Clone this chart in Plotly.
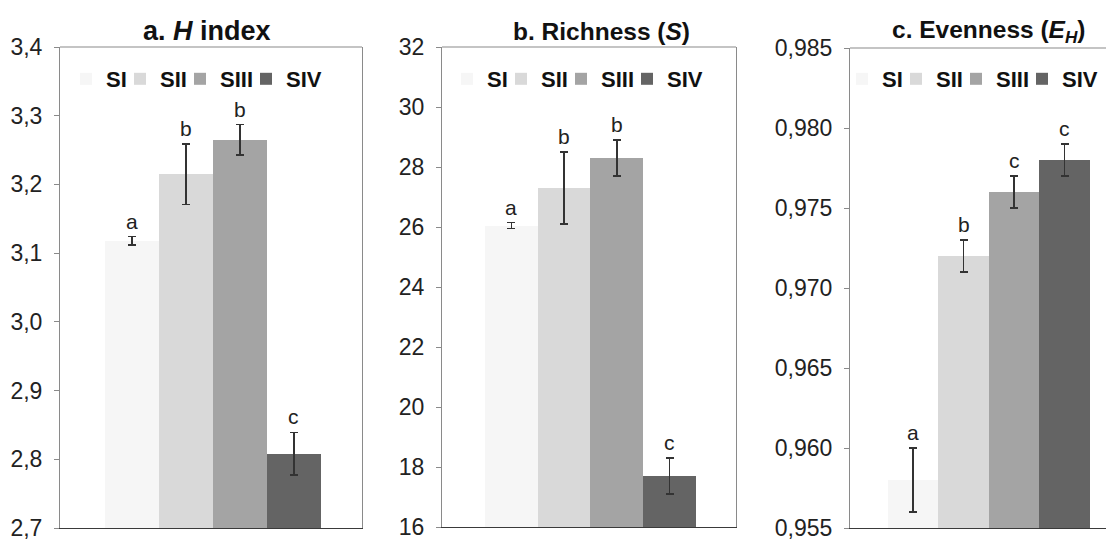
import plotly.graph_objects as go

# The page body has an 8px default margin, so the figure is sized to fit the
# 1114x539 window exactly and positions are given in window pixels minus 8.
OFF = 8
W, H = 1114 - OFF, 539 - OFF

series = ["SI", "SII", "SIII", "SIV"]
colors = ["#f6f6f6", "#d9d9d9", "#a4a4a4", "#646464"]
# legend entry widths (px) used to pack the legend entries tightly
legend_widths = [9, 15, 21, 37]

h_mean = [3.118, 3.215, 3.265, 2.808]
h_err = [0.006, 0.044, 0.022, 0.031]
h_letters = ["a", "b", "b", "c"]

s_mean = [26.05, 27.3, 28.3, 17.7]
s_err = [0.1, 1.2, 0.6, 0.6]
s_letters = ["a", "b", "b", "c"]

e_mean = [0.958, 0.972, 0.976, 0.978]
e_err = [0.002, 0.001, 0.001, 0.001]
e_letters = ["a", "b", "c", "c"]

titles = ["<b>a. <i>H</i> index</b>",
          "<b>b. Richness (<i>S</i>)</b>",
          "<b>c. Evenness (<i>E</i><sub><i>H</i></sub>)</b>"]

FONT = "Liberation Sans, Arial, sans-serif"


def px(sx):
    return (sx - OFF) / W


def py(sy):
    return 1 - (sy - OFF) / H


panels = [
    dict(mean=h_mean, err=h_err, letters=h_letters, xpx=(60, 362), ypx=(47, 528),
         yrange=[2.7, 3.4], dtick=0.1, fmt=".1f", xrange=[-1.333, 4.26],
         title_x=207, title_size=27, legend_x=66, mirror=True),
    dict(mean=s_mean, err=s_err, letters=s_letters, xpx=(442, 736), ypx=(47, 527),
         yrange=[16, 32], dtick=2, fmt="d", xrange=[-1.315, 4.26],
         title_x=601, title_size=24.5, legend_x=447, mirror=True),
    dict(mean=e_mean, err=e_err, letters=e_letters, xpx=(850, 1114), ypx=(48, 528),
         yrange=[0.955, 0.985], dtick=0.005, fmt=".3f", xrange=[-1.25, 3.98],
         title_x=989, title_size=24.5, legend_x=842, mirror=False),
]

fig = go.Figure()
layout = dict(
    width=W, height=H,
    margin=dict(l=0, r=0, t=0, b=0, autoexpand=False),
    paper_bgcolor="white", plot_bgcolor="white",
    separators=",.",
    bargap=0, barmode="group",
    showlegend=True,
    font=dict(family=FONT, color="#222222"),
)
annotations = []
shapes = []

for p_i, p in enumerate(panels):
    n = "" if p_i == 0 else str(p_i + 1)
    xa, ya = "x" + n, "y" + n
    leg = "legend" + n
    for s_i, s in enumerate(series):
        fig.add_trace(go.Bar(
            x=[s], y=[p["mean"][s_i]],
            name=s, xaxis=xa, yaxis=ya, legend=leg,
            legendwidth=legend_widths[s_i],
            marker=dict(color=colors[s_i], line=dict(width=0)),
            width=1,
            error_y=dict(type="data", array=[p["err"][s_i]], color="#333333",
                         thickness=1.5, width=4),
        ))
        annotations.append(dict(
            x=s, y=p["mean"][s_i] + p["err"][s_i], xref=xa, yref=ya,
            text=p["letters"][s_i], showarrow=False, yanchor="bottom", yshift=2,
            font=dict(family=FONT, size=21, color="#222222"),
        ))
    x0, x1 = p["xpx"]
    y0, y1 = p["ypx"]
    layout["xaxis" + n] = dict(
        domain=[px(x0), min(px(x1), 1.0)], anchor=ya, type="category",
        categoryorder="array", categoryarray=series,
        range=p["xrange"], showticklabels=False, ticks="",
        showline=True, linecolor="#3a3a3a", linewidth=1.2,
        showgrid=False, zeroline=False, fixedrange=True,
    )
    layout["yaxis" + n] = dict(
        domain=[py(y1), py(y0)], anchor=xa,
        range=p["yrange"], dtick=p["dtick"], tick0=p["yrange"][0],
        tickformat=p["fmt"], ticks="outside", ticklen=5, tickcolor="#8a8a8a",
        ticklabelstandoff=7, ticklabeloverflow="allow",
        showline=True, linecolor="#8a8a8a", linewidth=1, mirror=p["mirror"],
        showgrid=False, zeroline=False,
        tickfont=dict(family=FONT, size=23, color="#222222"),
    )
    layout[leg] = dict(
        orientation="h", x=px(p["legend_x"]), xanchor="left",
        y=py(79), yanchor="middle",
        bgcolor="rgba(0,0,0,0)", borderwidth=0,
        font=dict(family=FONT, size=22, color="#111111", weight="bold"),
        itemwidth=30,
    )
    shapes.append(dict(type="line", xref=xa + " domain", yref=ya + " domain",
                       x0=0, x1=1, y0=1, y1=1,
                       line=dict(color="#8a8a8a", width=1.2)))
    annotations.append(dict(
        x=px(p["title_x"]), y=py(31), xref="paper", yref="paper",
        text=titles[p_i], showarrow=False, xanchor="center", yanchor="middle",
        font=dict(family=FONT, size=p["title_size"], color="#111111"),
    ))

layout["annotations"] = annotations
layout["shapes"] = shapes
fig.update_layout(**layout)
fig.write_html("out.html")
